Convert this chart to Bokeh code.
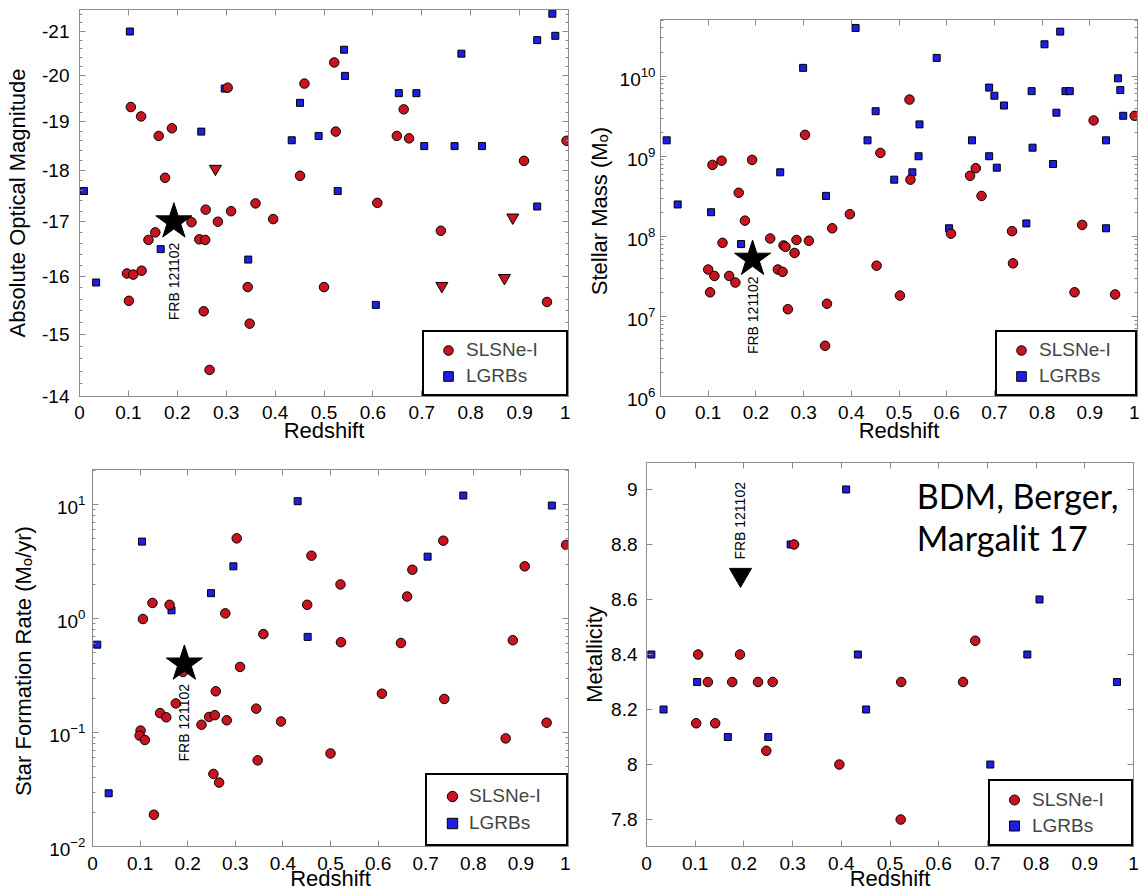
import math
from bokeh.plotting import figure
from bokeh.layouts import column, row
from bokeh.models import (FixedTicker, LinearAxis, Legend, LegendItem, Label,
                          Range1d, BasicTickFormatter)
from bokeh.embed import file_html
from bokeh.resources import INLINE

FONT = "Liberation Sans"
RED = "#C8141E"
BLUE = "#1E1EE6"
GRAY = "#8C8C8C"

# ---------------- data ----------------
redshift_ticks = [0, 0.1, 0.2, 0.3, 0.4, 0.5, 0.6, 0.7, 0.8, 0.9, 1.0]

frb_z = 0.193
frb_mag = -17.0
frb_mass = 5.2e7
frb_sfr = 0.40
frb_metal = 8.69

# Panel 1: absolute optical magnitude
mag_slsn_z = [0.105, 0.126, 0.162, 0.189, 0.175, 0.303, 0.258, 0.310, 0.360, 0.396, 0.229, 0.283,
              0.141, 0.155, 0.245, 0.257, 0.097, 0.110, 0.127, 0.101, 0.254, 0.344, 0.348, 0.266,
              0.460, 0.521, 0.524, 0.451, 0.663, 0.649, 0.674, 0.609, 0.739, 0.500, 0.909, 0.996, 0.956]
mag_slsn = [-19.31, -19.11, -18.70, -18.86, -17.85, -19.73, -17.23, -17.20, -17.35, -17.05, -16.99, -17.00,
            -16.66, -16.80, -16.67, -16.66, -16.05, -16.03, -16.10, -15.57, -15.39, -15.81, -15.18, -14.42,
            -19.82, -20.29, -18.79, -17.89, -19.26, -18.70, -18.65, -17.36, -16.83, -15.81, -18.19, -18.60, -15.55]
mag_limit_z = [0.278, 0.886, 0.741, 0.869]
mag_limit = [-18.03, -17.08, -15.83, -15.97]
mag_lgrb_z = [0.103, 0.009, 0.034, 0.166, 0.249, 0.297, 0.345, 0.434, 0.451, 0.489, 0.541, 0.543,
              0.528, 0.653, 0.689, 0.705, 0.767, 0.823, 0.781, 0.606, 0.936, 0.967, 0.973, 0.936]
mag_lgrb = [-21.00, -17.59, -15.89, -16.49, -18.79, -19.71, -16.30, -18.61, -19.40, -18.70, -20.58, -19.99,
            -17.59, -19.61, -19.61, -18.49, -18.49, -18.49, -20.49, -15.50, -20.80, -21.42, -20.90, -17.29]
mag_ticks = [-14, -15, -16, -17, -18, -19, -20, -21]

# Panel 2: stellar mass
mass_slsn_z = [0.303, 0.109, 0.128, 0.192, 0.164, 0.177, 0.130, 0.230, 0.258, 0.285, 0.311, 0.281,
               0.360, 0.397, 0.100, 0.113, 0.144, 0.157, 0.104, 0.246, 0.256, 0.267, 0.349, 0.345,
               0.522, 0.461, 0.524, 0.649, 0.661, 0.673, 0.609, 0.737, 0.739, 0.453, 0.502, 0.908,
               0.994, 0.884, 0.868, 0.953, 0.262]
mass_slsn = [1.85e9, 7.8e8, 8.8e8, 9.0e8, 3.5e8, 1.57e8, 8.3e7, 9.4e7, 7.7e7, 9.0e7, 8.8e7, 6.2e7,
             1.26e8, 1.89e8, 3.85e7, 3.2e7, 3.2e7, 2.65e7, 2.0e7, 3.85e7, 3.6e7, 1.23e7, 1.44e7, 4.3e6,
             5.1e9, 1.1e9, 5.1e8, 5.7e8, 7.1e8, 3.2e8, 1.08e8, 1.16e8, 4.6e7, 4.3e7, 1.82e7, 2.8e9,
             3.2e9, 1.39e8, 2.0e7, 1.88e7, 7.4e7]
mass_lgrb_z = [0.013, 0.036, 0.106, 0.169, 0.251, 0.299, 0.347, 0.409, 0.451, 0.434, 0.490, 0.528,
               0.543, 0.541, 0.579, 0.605, 0.653, 0.689, 0.700, 0.689, 0.705, 0.720, 0.767, 0.778,
               0.780, 0.805, 0.830, 0.823, 0.838, 0.849, 0.858, 0.934, 0.934, 0.959, 0.964, 0.970]
mass_lgrb = [1.58e9, 2.5e8, 2.0e8, 8.0e7, 6.3e8, 1.27e10, 3.2e8, 4.0e10, 3.65e9, 1.58e9, 5.1e8, 6.3e8,
             2.5e9, 1.0e9, 1.69e10, 1.26e8, 1.58e9, 7.2e9, 5.7e9, 1.0e9, 7.2e8, 4.3e9, 1.45e8, 6.5e9,
             1.28e9, 2.5e10, 3.5e9, 8.0e8, 3.6e10, 6.5e9, 6.5e9, 1.58e9, 1.26e8, 9.4e9, 6.7e9, 3.2e9]

# Panel 3: star formation rate
sfr_slsn_z = [0.303, 0.126, 0.162, 0.106, 0.279, 0.359, 0.310, 0.259, 0.175, 0.142, 0.155, 0.101,
              0.099, 0.110, 0.229, 0.245, 0.257, 0.282, 0.344, 0.396, 0.347, 0.254, 0.266, 0.129,
              0.460, 0.521, 0.451, 0.522, 0.648, 0.661, 0.672, 0.737, 0.608, 0.739, 0.500, 0.908,
              0.995, 0.883, 0.868, 0.954, 0.190]
sfr_slsn = [5.05, 1.37, 1.32, 0.99, 1.11, 0.73, 0.376, 0.23, 0.18, 0.148, 0.136, 0.104,
            0.094, 0.086, 0.117, 0.137, 0.142, 0.128, 0.162, 0.125, 0.057, 0.0433, 0.0364, 0.019,
            3.56, 1.99, 1.32, 0.62, 0.61, 1.56, 2.68, 4.82, 0.219, 0.197, 0.0655, 2.87,
            4.42, 0.645, 0.0888, 0.122, 0.34]
sfr_lgrb_z = [0.104, 0.010, 0.166, 0.249, 0.296, 0.034, 0.431, 0.452, 0.704, 0.779, 0.965]
sfr_lgrb = [4.73, 0.59, 1.18, 1.67, 2.87, 0.0293, 10.7, 0.69, 3.49, 12.0, 9.8]

# Panel 4: metallicity
met_slsn_z = [0.303, 0.106, 0.192, 0.126, 0.176, 0.229, 0.259, 0.102, 0.141, 0.246, 0.396,
              0.523, 0.650, 0.675, 0.522]
met_slsn = [8.80, 8.40, 8.40, 8.30, 8.30, 8.30, 8.30, 8.15, 8.15, 8.05, 8.00,
            8.30, 8.30, 8.45, 7.80]
met_lgrb_z = [0.010, 0.035, 0.104, 0.167, 0.250, 0.296, 0.410, 0.434, 0.451, 0.706, 0.782, 0.807, 0.966]
met_lgrb = [8.40, 8.20, 8.30, 8.10, 8.10, 8.80, 9.00, 8.40, 8.20, 8.00, 8.40, 8.60, 8.30]
met_ticks = [7.8, 8.0, 8.2, 8.4, 8.6, 8.8, 9.0]

log_major_mass = [1e6, 1e7, 1e8, 1e9, 1e10]
log_major_sfr = [1e-2, 1e-1, 1e0, 1e1]


def log_minors(majors, top):
    out = []
    for m in majors:
        for k in range(2, 10):
            v = m * k
            if v < top:
                out.append(v)
    return out


def style_axis(ax, label_size="19px", standoff=5):
    ax.axis_line_color = GRAY
    ax.major_tick_line_color = GRAY
    ax.minor_tick_line_color = GRAY
    ax.major_tick_in = 6
    ax.major_tick_out = 0
    ax.minor_tick_in = 3
    ax.minor_tick_out = 0
    ax.major_label_text_font = FONT
    ax.major_label_text_font_size = label_size
    ax.major_label_text_color = "black"
    ax.major_label_standoff = standoff
    ax.axis_label_text_font = FONT
    ax.axis_label_text_font_size = "22px"
    ax.axis_label_text_font_style = "normal"
    ax.axis_label_text_color = "black"


def hidden_axis(p, ticker, place):
    ax = LinearAxis(ticker=ticker)
    style_axis(ax, label_size="1px", standoff=0)
    ax.major_label_text_alpha = 0
    p.add_layout(ax, place)


def panel(w, h, bl, br, bt, bb, ytype, yr, ylabel, xstand, xlstand, ystand, ylstand):
    p = figure(width=w, height=h, x_range=Range1d(0, 1), y_range=Range1d(*yr),
               y_axis_type=ytype, output_backend="svg", toolbar_location=None,
               min_border_left=bl, min_border_right=br, min_border_top=bt, min_border_bottom=bb)
    p.grid.visible = False
    p.outline_line_color = GRAY
    p.outline_line_width = 1
    p.background_fill_color = "white"
    p.border_fill_color = "white"
    xt = FixedTicker(ticks=redshift_ticks, minor_ticks=[])
    p.xaxis.ticker = xt
    p.xaxis.axis_label = "Redshift"
    p.xaxis.major_label_overrides = {0: "0", 1: "1"}
    for ax in p.xaxis:
        style_axis(ax, standoff=xstand)
        ax.axis_label_standoff = xlstand
    p.yaxis.axis_label = ylabel
    for ax in p.yaxis:
        style_axis(ax, standoff=ystand)
        ax.axis_label_standoff = ylstand
    hidden_axis(p, FixedTicker(ticks=redshift_ticks, minor_ticks=[]), "above")
    return p


def add_points(p, xs_l, ys_l, xs_s, ys_s, pad, gw, gh, sp, lw):
    r_l = p.scatter(xs_l, ys_l, marker="square", size=7, fill_color=BLUE,
                    line_color="black", line_width=1)
    r_s = p.scatter(xs_s, ys_s, marker="circle", size=9.5, fill_color=RED,
                    line_color="black", line_width=1)
    leg = Legend(items=[LegendItem(label="SLSNe-I", renderers=[r_s]),
                        LegendItem(label="LGRBs", renderers=[r_l])],
                 location="bottom_right", margin=0, padding=pad, spacing=sp,
                 glyph_width=gw, glyph_height=gh, label_height=gh, label_width=lw,
                 label_standoff=0, border_line_color="black", border_line_width=2,
                 border_line_alpha=1.0,
                 label_text_font=FONT, label_text_font_size="19px",
                 background_fill_color="white", background_fill_alpha=1)
    p.add_layout(leg)
    return r_l, r_s


def frb_label(p, x, y, align):
    p.add_layout(Label(x=x, y=y, text="FRB 121102", angle=math.pi / 2,
                       text_align=align, text_baseline="middle",
                       text_font=FONT, text_font_size="14px", text_color="black"))


# ---------------- Panel 1 ----------------
p1 = panel(570, 447, 79, 2, 9, 51, "log", (14, 21.52), "Absolute Optical Magnitude",
           9, -4, 10, 9)
mag_minor = [round(14 + 0.2 * i, 1) for i in range(38) if round(14 + 0.2 * i, 1) not in (14, 15, 16, 17, 18, 19, 20, 21)]
p1.yaxis.ticker = FixedTicker(ticks=[-m for m in mag_ticks], minor_ticks=mag_minor)
p1.yaxis.formatter = BasicTickFormatter()
p1.yaxis.major_label_overrides = {-m: str(m) for m in mag_ticks}
hidden_axis(p1, FixedTicker(ticks=[-m for m in mag_ticks], minor_ticks=mag_minor), "right")
add_points(p1, mag_lgrb_z, [-m for m in mag_lgrb], mag_slsn_z, [-m for m in mag_slsn],
           6, 36, 24, 2, 94)
p1.scatter(mag_limit_z, [-m for m in mag_limit], marker="inverted_triangle", size=12,
           fill_color=RED, line_color="black", line_width=1)
p1.scatter([frb_z], [-frb_mag], marker="star", size=38, fill_color="black", line_color="black")
frb_label(p1, frb_z, 16.61, "right")

# ---------------- Panel 2 ----------------
p2 = panel(569, 447, 90, 2, 19, 51, "log", (1e6, 5.1e10), "Stellar Mass  (M\u2092)",
           9, -4, 5, 5)
mass_minor = log_minors(log_major_mass, 5.1e10)
p2.yaxis.ticker = FixedTicker(ticks=log_major_mass, minor_ticks=mass_minor)
hidden_axis(p2, FixedTicker(ticks=log_major_mass, minor_ticks=mass_minor), "right")
add_points(p2, mass_lgrb_z, mass_lgrb, mass_slsn_z, mass_slsn, 6, 36, 24, 2, 90)
p2.scatter([frb_z], [frb_mass], marker="star", size=38, fill_color="black", line_color="black")
frb_label(p2, frb_z, 3.15e7, "right")

# ---------------- Panel 3 ----------------
p3 = panel(570, 446, 92, 2, 22, 47, "log", (0.01, 20.3), "Star Formation Rate  (M\u2092/yr)",
           10, -7, 7, 10)
sfr_minor = log_minors(log_major_sfr, 20.3)
p3.yaxis.ticker = FixedTicker(ticks=log_major_sfr, minor_ticks=sfr_minor)
hidden_axis(p3, FixedTicker(ticks=log_major_sfr, minor_ticks=sfr_minor), "right")
add_points(p3, sfr_lgrb_z, sfr_lgrb, sfr_slsn_z, sfr_slsn, 8, 34, 26, 1, 89)
p3.scatter([frb_z], [frb_sfr], marker="star", size=38, fill_color="black", line_color="black")
frb_label(p3, frb_z, 0.267, "right")

# ---------------- Panel 4 ----------------
p4 = panel(569, 446, 76, 6, 15, 47, "linear", (7.702, 9.098), "Metallicity",
           10, -7, 9, 1)
p4.yaxis.ticker = FixedTicker(ticks=met_ticks, minor_ticks=[])
p4.yaxis.major_label_overrides = {8: "8", 9: "9"}
hidden_axis(p4, FixedTicker(ticks=met_ticks, minor_ticks=[]), "right")
add_points(p4, met_lgrb_z, met_lgrb, met_slsn_z, met_slsn, 6, 36, 25, 1, 93)
p4.scatter([frb_z], [frb_metal], marker="inverted_triangle", size=22,
           fill_color="black", line_color="black")
frb_label(p4, frb_z, 8.745, "left")
p4.add_layout(Label(x=0.555, y=8.979, text="BDM, Berger,", text_font="Lato",
                    text_font_size="34px", text_color="black", text_baseline="alphabetic"))
p4.add_layout(Label(x=0.555, y=8.826, text="Margalit 17", text_font="Lato",
                    text_font_size="34px", text_color="black", text_baseline="alphabetic"))

layout = column(row(column(p1), column(p2)), row(column(p3), column(p4)))
open("out.html", "w").write(file_html(layout, INLINE))
